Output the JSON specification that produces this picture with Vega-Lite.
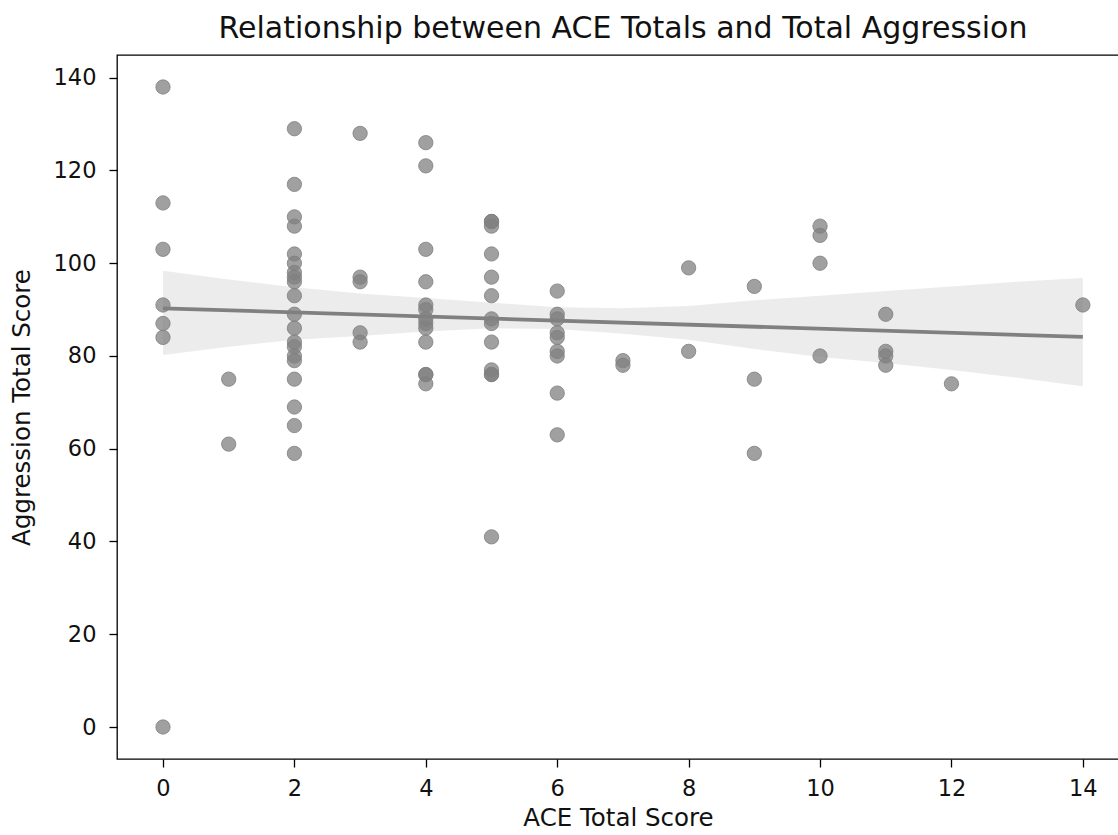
{
  "$schema": "https://vega.github.io/schema/vega-lite/v6.json",
  "width": 1002,
  "height": 704,
  "autosize": {"type": "none"},
  "padding": {"left": 117, "top": 55, "right": 0, "bottom": 76},
  "background": "white",
  "config": {
    "font": "DejaVu Sans",
    "view": {"stroke": "black", "strokeWidth": 1.3},
    "axis": {"grid": false, "domain": false, "tickColor": "black", "tickSize": 8, "tickWidth": 1.3, "labelColor": "#111111", "labelFontSize": 22.5, "labelFont": "DejaVu Sans", "titleFont": "DejaVu Sans", "titleFontSize": 24.5, "titleFontWeight": "normal", "titleColor": "#111111", "format": "d"}
  },
  "title": {"text": "Relationship between ACE Totals and Total Aggression", "fontSize": 30, "fontWeight": "normal", "font": "DejaVu Sans", "color": "#111111", "anchor": "middle", "offset": 11, "dx": 5},
  "datasets": {
    "points": [
      {"ace": 0, "agg": 138}, {"ace": 0, "agg": 113}, {"ace": 0, "agg": 103}, {"ace": 0, "agg": 91}, {"ace": 0, "agg": 87}, {"ace": 0, "agg": 84}, {"ace": 0, "agg": 0},
      {"ace": 1, "agg": 75}, {"ace": 1, "agg": 61},
      {"ace": 2, "agg": 129}, {"ace": 2, "agg": 117}, {"ace": 2, "agg": 110}, {"ace": 2, "agg": 108}, {"ace": 2, "agg": 102}, {"ace": 2, "agg": 100}, {"ace": 2, "agg": 98}, {"ace": 2, "agg": 97}, {"ace": 2, "agg": 96}, {"ace": 2, "agg": 93}, {"ace": 2, "agg": 89}, {"ace": 2, "agg": 86}, {"ace": 2, "agg": 83}, {"ace": 2, "agg": 82}, {"ace": 2, "agg": 80}, {"ace": 2, "agg": 79}, {"ace": 2, "agg": 75}, {"ace": 2, "agg": 69}, {"ace": 2, "agg": 65}, {"ace": 2, "agg": 59},
      {"ace": 3, "agg": 128}, {"ace": 3, "agg": 97}, {"ace": 3, "agg": 96}, {"ace": 3, "agg": 85}, {"ace": 3, "agg": 83},
      {"ace": 4, "agg": 126}, {"ace": 4, "agg": 121}, {"ace": 4, "agg": 103}, {"ace": 4, "agg": 96}, {"ace": 4, "agg": 91}, {"ace": 4, "agg": 90}, {"ace": 4, "agg": 88}, {"ace": 4, "agg": 87}, {"ace": 4, "agg": 86}, {"ace": 4, "agg": 83}, {"ace": 4, "agg": 76}, {"ace": 4, "agg": 76}, {"ace": 4, "agg": 74},
      {"ace": 5, "agg": 109}, {"ace": 5, "agg": 109}, {"ace": 5, "agg": 108}, {"ace": 5, "agg": 102}, {"ace": 5, "agg": 97}, {"ace": 5, "agg": 93}, {"ace": 5, "agg": 88}, {"ace": 5, "agg": 87}, {"ace": 5, "agg": 83}, {"ace": 5, "agg": 77}, {"ace": 5, "agg": 76}, {"ace": 5, "agg": 76}, {"ace": 5, "agg": 41},
      {"ace": 6, "agg": 94}, {"ace": 6, "agg": 89}, {"ace": 6, "agg": 88}, {"ace": 6, "agg": 85}, {"ace": 6, "agg": 84}, {"ace": 6, "agg": 81}, {"ace": 6, "agg": 80}, {"ace": 6, "agg": 72}, {"ace": 6, "agg": 63},
      {"ace": 7, "agg": 79}, {"ace": 7, "agg": 78},
      {"ace": 8, "agg": 99}, {"ace": 8, "agg": 81},
      {"ace": 9, "agg": 95}, {"ace": 9, "agg": 75}, {"ace": 9, "agg": 59},
      {"ace": 10, "agg": 108}, {"ace": 10, "agg": 106}, {"ace": 10, "agg": 100}, {"ace": 10, "agg": 80},
      {"ace": 11, "agg": 89}, {"ace": 11, "agg": 81}, {"ace": 11, "agg": 80}, {"ace": 11, "agg": 78},
      {"ace": 12, "agg": 74},
      {"ace": 14, "agg": 91}
    ],
    "band": [
      {"ace": 0, "lo": 80.2, "hi": 98.4},
      {"ace": 1, "lo": 82.0, "hi": 96.5},
      {"ace": 2, "lo": 83.5, "hi": 94.8},
      {"ace": 3, "lo": 84.3, "hi": 93.5},
      {"ace": 4, "lo": 85.3, "hi": 92.5},
      {"ace": 5, "lo": 86.0, "hi": 91.5},
      {"ace": 6, "lo": 85.8, "hi": 90.5},
      {"ace": 7, "lo": 84.8, "hi": 90.3},
      {"ace": 8, "lo": 83.5, "hi": 90.8},
      {"ace": 9, "lo": 81.5, "hi": 92.0},
      {"ace": 10, "lo": 79.8, "hi": 93.0},
      {"ace": 11, "lo": 78.5, "hi": 94.0},
      {"ace": 12, "lo": 77.0, "hi": 95.0},
      {"ace": 13, "lo": 75.3, "hi": 96.0},
      {"ace": 14, "lo": 73.5, "hi": 96.8}
    ]
  },
  "layer": [
    {
      "data": {"name": "band"},
      "mark": {"type": "area", "color": "#808080", "opacity": 0.15},
      "encoding": {
        "x": {"field": "ace", "type": "quantitative", "scale": {"domain": [-0.7, 14.55], "nice": false, "zero": false}, "axis": {"values": [0, 2, 4, 6, 8, 10, 12, 14], "title": "ACE Total Score", "labelPadding": 10, "titlePadding": 7}},
        "y": {"field": "lo", "type": "quantitative", "scale": {"domain": [-6.9, 144.9], "nice": false, "zero": false}, "axis": {"values": [0, 20, 40, 60, 80, 100, 120, 140], "title": "Aggression Total Score", "labelPadding": 13, "titlePadding": 19}},
        "y2": {"field": "hi"}
      }
    },
    {
      "data": {"name": "points"},
      "mark": {"type": "circle", "fill": "#808080", "stroke": "#808080", "strokeWidth": 1, "fillOpacity": 0.75, "strokeOpacity": 0.8, "size": 205},
      "encoding": {
        "x": {"field": "ace", "type": "quantitative"},
        "y": {"field": "agg", "type": "quantitative"}
      }
    },
    {
      "data": {"name": "points"},
      "transform": [{"regression": "agg", "on": "ace", "extent": [0, 14]}],
      "mark": {"type": "line", "color": "#808080", "strokeWidth": 3.8},
      "encoding": {
        "x": {"field": "ace", "type": "quantitative"},
        "y": {"field": "agg", "type": "quantitative"}
      }
    }
  ]
}
